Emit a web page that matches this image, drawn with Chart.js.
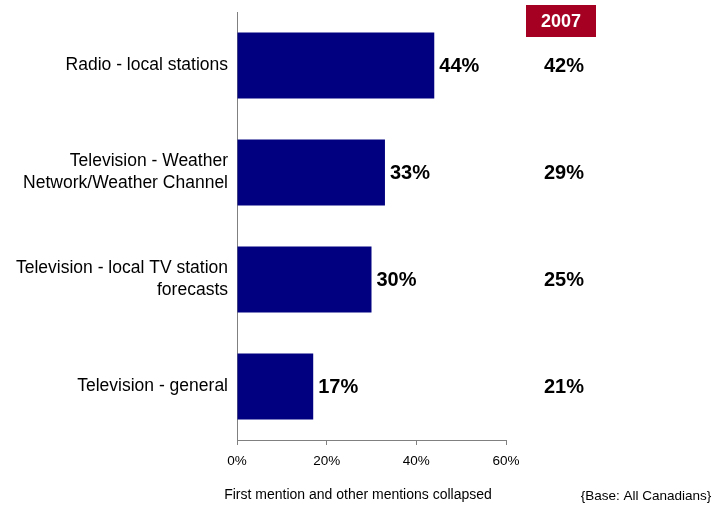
<!DOCTYPE html>
<html>
<head>
<meta charset="utf-8">
<script src="https://cdn.jsdelivr.net/npm/chart.js@4.4.1/dist/chart.umd.min.js"></script>
<style>
  body { margin: 0; background: #fff; }
  #wrap { width: 717px; height: 508px; }
</style>
</head>
<body>
<div id="wrap"><canvas id="mediaChart" width="717" height="508"></canvas></div>
<script>
// sources of weather info
const categories = [
    ['Radio - local stations'],
    ['Television - Weather', 'Network/Weather Channel'],
    ['Television - local TV station', 'forecasts'],
    ['Television - general']
];
const current = [44, 33, 30, 17];
const prev2007 = [42, 29, 25, 21];
const xTicks = [0, 20, 40, 60];

const FONT = '"Liberation Sans", Arial, sans-serif';
const NAVY = '#000080';
const AXIS_GRAY = '#808080';

// value labels, 2007 column and footnotes
const extras = {
    id: 'extras',
    afterDatasetsDraw(chart) {
        const ctx = chart.ctx;
        const bars = chart.getDatasetMeta(0).data;
        const colX = 561;
        ctx.save();
        ctx.fillStyle = '#000';
        ctx.font = 'bold 20px ' + FONT;
        ctx.textBaseline = 'middle';
        bars.forEach(function (bar, i) {
            ctx.textAlign = 'left';
            ctx.fillText(current[i] + '%', bar.x + 5, bar.y + 1);
            ctx.textAlign = 'center';
            ctx.fillText(prev2007[i] + '%', colX + 3, bar.y + 1);
        });

        // 2007 header box
        ctx.fillStyle = '#A50021';
        ctx.fillRect(colX - 35, 5, 70, 32);
        ctx.fillStyle = '#fff';
        ctx.font = 'bold 18px ' + FONT;
        ctx.textAlign = 'center';
        ctx.fillText('2007', colX, 22);

        ctx.fillStyle = '#000';
        ctx.font = '14px ' + FONT;
        ctx.fillText('First mention and other mentions collapsed', 358, 495);
        ctx.font = '13.5px ' + FONT;
        ctx.fillText('{Base: All Canadians}', 646, 496);
        ctx.restore();
    }
};

const config = {
    type: 'bar',
    data: {
        labels: categories,
        datasets: [{
            data: current,
            backgroundColor: NAVY,
            borderWidth: 0,
            barPercentage: 0.617,
            categoryPercentage: 1
        }]
    },
    options: {
        indexAxis: 'y',
        responsive: false,
        animation: false,
        layout: { padding: { top: 12, right: 211, bottom: 0, left: 0 } },
        plugins: {
            legend: { display: false },
            tooltip: { enabled: false }
        },
        scales: {
            x: {
                min: 0,
                max: 60,
                afterBuildTicks: function (scale) {
                    scale.ticks = xTicks.map(function (v) { return { value: v }; });
                },
                afterFit: function (scale) { scale.height = 68; },
                grid: {
                    display: true,
                    drawOnChartArea: false,
                    drawTicks: true,
                    tickLength: 5,
                    color: AXIS_GRAY
                },
                border: { display: true, color: AXIS_GRAY, width: 1 },
                ticks: {
                    padding: 8,
                    color: '#000',
                    font: { family: FONT, size: 13.5 },
                    callback: function (v) { return v + '%'; }
                }
            },
            y: {
                afterFit: function (scale) {
                    scale.width = 237;
                    scale.paddingTop = 0;
                    scale.paddingBottom = 0;
                },
                grid: { display: false, drawTicks: false },
                border: { display: true, color: AXIS_GRAY, width: 1 },
                ticks: {
                    padding: 9,
                    color: '#000',
                    font: { family: FONT, size: 17.5, lineHeight: 1.25 }
                }
            }
        }
    },
    plugins: [extras]
};

function createBarChart() {
    const canvas = document.getElementById('mediaChart');
    if (canvas) {
        new Chart(canvas, config);
    }
}

createBarChart();
</script>
</body>
</html>
